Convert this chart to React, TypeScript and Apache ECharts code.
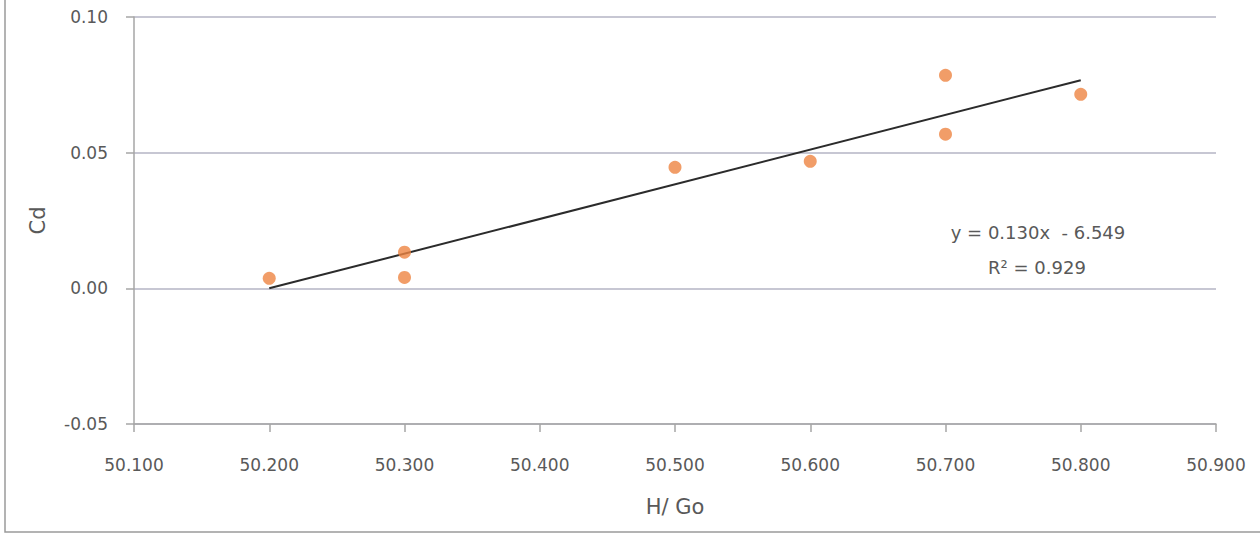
import React, { useEffect, useRef } from "react";
import * as echarts from "echarts";

const xValues = [50.2, 50.3, 50.3, 50.5, 50.6, 50.7, 50.7, 50.8];
const cdValues = [0.0037, 0.0133, 0.004, 0.0446, 0.0468, 0.0785, 0.0568, 0.0715];
const trendX = [50.2, 50.8];
const trendY = [0.0, 0.0767];
const equationText = "y = 0.130x  - 6.549";
const r2Text = "R² = 0.929";
const xAxisTitle = "H/ Go";
const yAxisTitle = "Cd";

const FONT = "'DejaVu Sans', Verdana, sans-serif";
const LABEL = "#595959";

export default function App() {
  const ref = useRef<HTMLDivElement>(null);
  useEffect(() => {
    document.body.style.margin = "0";
    const chart = echarts.init(ref.current!, null, { renderer: "svg" });
    chart.setOption({
      animation: false,
      backgroundColor: "#ffffff",
      grid: { left: 134, right: 44, top: 17, bottom: 114 },
      xAxis: {
        type: "value",
        min: 50.1,
        max: 50.9,
        interval: 0.1,
        name: xAxisTitle,
        nameLocation: "middle",
        nameGap: 72,
        nameTextStyle: { fontFamily: FONT, fontSize: 21, color: LABEL },
        axisLine: { show: true, onZero: false, lineStyle: { color: "#a6a6a6", width: 1.5 } },
        axisTick: { show: true, length: 8, lineStyle: { color: "#a6a6a6", width: 1.5 } },
        axisLabel: {
          margin: 32,
          fontFamily: FONT,
          fontSize: 17,
          color: LABEL,
          formatter: (v: number) => v.toFixed(3),
        },
        splitLine: { show: false },
      },
      yAxis: {
        type: "value",
        min: -0.05,
        max: 0.1,
        interval: 0.05,
        name: yAxisTitle,
        nameLocation: "middle",
        nameGap: 86,
        nameRotate: 90,
        nameTextStyle: { fontFamily: FONT, fontSize: 21, color: LABEL },
        axisLine: { show: true, onZero: false, lineStyle: { color: "#a6a6a6", width: 1.5 } },
        axisTick: { show: true, length: 8, lineStyle: { color: "#a6a6a6", width: 1.5 } },
        axisLabel: {
          margin: 26,
          fontFamily: FONT,
          fontSize: 17,
          color: LABEL,
          formatter: (v: number) => v.toFixed(2),
        },
        splitLine: { show: true, lineStyle: { color: "#b4b4c4", width: 1.5 } },
      },
      series: [
        {
          type: "line",
          data: trendX.map((x, i) => [x, trendY[i]]),
          symbol: "none",
          lineStyle: { color: "#2b2b2b", width: 2 },
          z: 2,
        },
        {
          type: "scatter",
          data: xValues.map((x, i) => [x, cdValues[i]]),
          symbol: "circle",
          symbolSize: 13,
          itemStyle: { color: "#ee8442" },
          z: 3,
        },
      ],
      graphic: [
        {
          type: "text",
          x: 1038,
          y: 232,
          style: {
            text: equationText,
            fontFamily: FONT,
            fontSize: 18,
            fill: LABEL,
            align: "center",
            verticalAlign: "middle",
          },
        },
        {
          type: "text",
          x: 1037,
          y: 267,
          style: {
            text: r2Text,
            fontFamily: FONT,
            fontSize: 18,
            fill: LABEL,
            align: "center",
            verticalAlign: "middle",
          },
        },
        {
          type: "polyline",
          shape: { points: [[5, 0], [5, 532], [1260, 532]] },
          style: { stroke: "#9a9a9a", lineWidth: 1.5, fill: "none" },
        },
      ],
    });
    return () => chart.dispose();
  }, []);
  return <div ref={ref} style={{ width: 1260, height: 538 }} />;
}
